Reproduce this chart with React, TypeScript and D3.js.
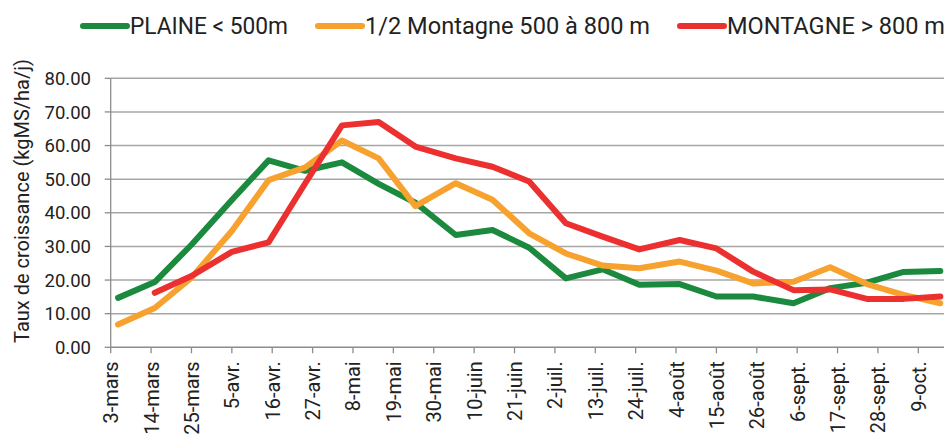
import React, { useEffect } from "react";
import * as d3 from "d3";

// dates des points (milieu de décade) et valeurs
const pointDates = [
  "03-05", "03-15", "03-25", "04-05", "04-15", "04-25", "05-05", "05-15",
  "05-25", "06-05", "06-15", "06-25", "07-05", "07-15", "07-25", "08-05",
  "08-15", "08-25", "09-05", "09-15", "09-25", "10-05", "10-15",
];
const plaine = [
  14.7, 19.4, 30.5, 43.8, 55.6, 52.5, 55.0, 48.6, 43.0, 33.4, 34.9, 29.6,
  20.5, 23.2, 18.6, 18.8, 15.1, 15.1, 13.1, 17.6, 19.2, 22.4, 22.7,
];
const demiMontagne = [
  6.8, 11.7, 20.7, 34.6, 49.7, 53.5, 61.5, 56.2, 42.0, 48.8, 43.9, 33.9,
  27.9, 24.3, 23.5, 25.5, 22.8, 19.0, 19.5, 23.8, 18.8, 15.6, 13.1,
];
const montagne = [
  null, 16.2, 21.2, 28.4, 31.2, 48.8, 66.0, 67.0, 59.7, 56.2, 53.7, 49.3,
  36.9, 32.9, 29.1, 31.9, 29.4, 22.5, 17.0, 17.2, 14.4, 14.4, 15.1,
];

const seriesNames = ["PLAINE < 500m", "1/2 Montagne 500 à 800 m", "MONTAGNE > 800 m"];
const seriesColors = ["#1b8a3e", "#f7a12e", "#ec2f2f"];

const xTickLabels = [
  "3-mars", "14-mars", "25-mars", "5-avr.", "16-avr.", "27-avr.", "8-mai",
  "19-mai", "30-mai", "10-juin", "21-juin", "2-juil.", "13-juil.", "24-juil.",
  "4-août", "15-août", "26-août", "6-sept.", "17-sept.", "28-sept.", "9-oct.",
];
const yTicks = [0, 10, 20, 30, 40, 50, 60, 70, 80];

const width = 949;
const height = 434;
const font = "Roboto, 'Noto Sans', sans-serif";

const parse = d3.timeParse("%Y-%m-%d");
const toDate = (md: string) => parse("2019-" + md) as Date;
const startDate = toDate("03-03");
const endDate = toDate("10-16");

const x = d3.scaleTime().domain([startDate, endDate]).range([110.7, 944]);
const y = d3.scaleLinear().domain([0, 80]).range([347.3, 78.3]);

const tickDates = xTickLabels.map((_, i) => d3.timeDay.offset(startDate, i * 11));

const line = d3
  .line<number | null>()
  .defined((d) => d != null)
  .x((_, i) => x(toDate(pointDates[i])))
  .y((d) => y(d as number));

export default function App() {
  useEffect(() => {
    document.body.style.margin = "0";
  }, []);

  const series = [plaine, demiMontagne, montagne];
  // légende : début du trait et largeur du texte
  const legendX = [83, 318, 680];
  const legendW = [158, 285, 218];

  return (
    <svg width={width} height={height} style={{ display: "block", background: "#fff" }}>
      {/* grille horizontale */}
      {yTicks.slice(1).map((t) => (
        <line key={t} x1={x.range()[0]} x2={x.range()[1]} y1={y(t)} y2={y(t)} stroke="#a6a6a6" strokeWidth={1.5} />
      ))}
      {/* axes */}
      <line x1={x.range()[0]} x2={x.range()[0]} y1={y(80)} y2={y(0)} stroke="#8c8c8c" strokeWidth={1.3} />
      <line x1={x.range()[0]} x2={x.range()[1]} y1={y(0)} y2={y(0)} stroke="#8c8c8c" strokeWidth={1.5} />
      {yTicks.map((t) => (
        <g key={t}>
          <line x1={x.range()[0] - 6} x2={x.range()[0]} y1={y(t)} y2={y(t)} stroke="#8c8c8c" strokeWidth={1.3} />
          <text x={91} y={y(t)} dy="0.36em" textAnchor="end" fontFamily={font} fontSize={18.5} fill="#222">
            {t.toFixed(2)}
          </text>
        </g>
      ))}
      {tickDates.map((d, i) => (
        <g key={i}>
          <line x1={x(d)} x2={x(d)} y1={y(0)} y2={y(0) + 6} stroke="#8c8c8c" strokeWidth={1.3} />
          <text
            transform={`translate(${x(d) + 7.5},${y(0) + 14}) rotate(-90)`}
            textAnchor="end"
            fontFamily={font}
            fontSize={20}
            fill="#222"
          >
            {xTickLabels[i]}
          </text>
        </g>
      ))}
      <text
        transform={`translate(29,201) rotate(-90)`}
        textAnchor="middle"
        fontFamily={font}
        fontSize={20}
        fill="#222"
      >
        Taux de croissance (kgMS/ha/j)
      </text>
      {/* courbes */}
      {series.map((s, i) => (
        <path
          key={i}
          d={line(s) || ""}
          fill="none"
          stroke={seriesColors[i]}
          strokeWidth={6}
          strokeLinejoin="round"
          strokeLinecap="round"
        />
      ))}
      {/* légende */}
      {seriesNames.map((name, i) => (
        <g key={name} transform={`translate(${legendX[i]},26)`}>
          <line x1={0} x2={44} y1={0} y2={0} stroke={seriesColors[i]} strokeWidth={6} strokeLinecap="round" />
          <text
            x={47}
            y={0}
            dy="0.36em"
            fontFamily={font}
            fontSize={23}
            fill="#222"
            textLength={legendW[i]}
            lengthAdjust="spacingAndGlyphs"
          >
            {name}
          </text>
        </g>
      ))}
    </svg>
  );
}
